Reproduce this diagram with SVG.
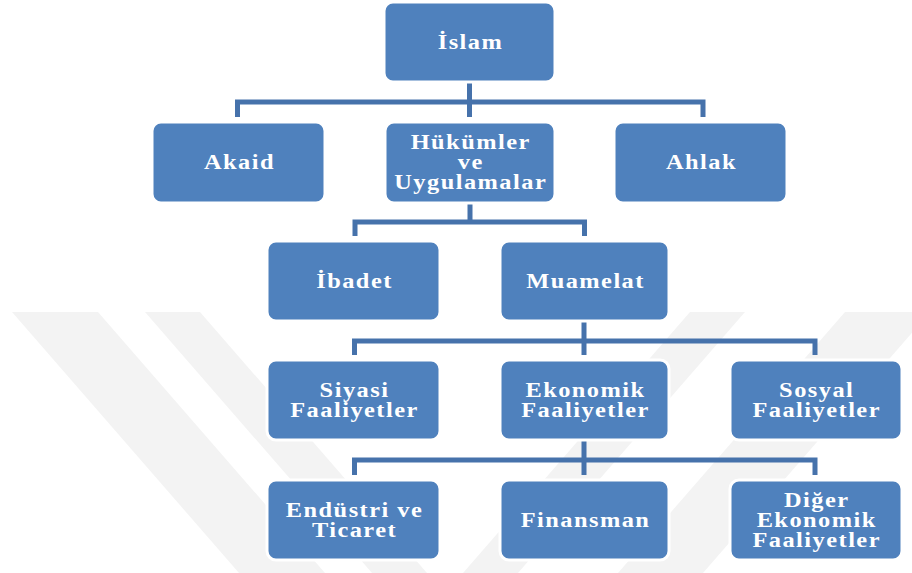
<svg xmlns="http://www.w3.org/2000/svg" width="912" height="573" viewBox="0 0 912 573">
<style>
.box{fill:#4F81BD;stroke:#ffffff;stroke-width:3}
.lbl{font-family:"Liberation Serif","Times New Roman",serif;font-weight:bold;font-size:20px;fill:#ffffff;text-anchor:middle;letter-spacing:1.2px}
.con{fill:none;stroke:#4672AB;stroke-width:5;stroke-linejoin:miter;stroke-linecap:butt}
.wm{fill:#f3f3f3}
</style>
<rect width="912" height="573" fill="#ffffff"/>
<g id="watermark">
<polygon class="wm" points="12,312 98,312 325,573 239,573"/>
<polygon class="wm" points="145,312 200,312 427,573 372,573"/>
<polygon class="wm" points="845,312 930,312 703,573 618,573"/>
<polygon class="wm" points="690,312 745,312 518,573 463,573"/>
</g>
<g id="connectors">
<path class="con" d="M469.5,82 V117 M237.5,117 V102 H703 V117"/>
<path class="con" d="M470,203 V222 M355,236 V222 H584.5 V236"/>
<path class="con" d="M584,321 V355 M354.5,355 V341 H815 V355"/>
<path class="con" d="M584,440 V475 M354.5,475 V460 H815 V475"/>
</g>
<g id="n-islam"><rect class="box" x="384" y="2" width="171" height="80" rx="9"/><text class="lbl" transform="matrix(1.22 0 0 1 470.5 48.5)">İslam</text></g>
<g id="n-akaid"><rect class="box" x="152" y="122" width="173" height="81" rx="9"/><text class="lbl" transform="matrix(1.22 0 0 1 239.5 168.5)">Akaid</text></g>
<g id="n-hukumler"><rect class="box" x="385" y="122" width="170" height="81" rx="9"/><text class="lbl" transform="matrix(1.22 0 0 1 470.7 148.5)">Hükümler</text><text class="lbl" transform="matrix(1.22 0 0 1 470.7 168.5)">ve</text><text class="lbl" transform="matrix(1.22 0 0 1 470.7 188.5)">Uygulamalar</text></g>
<g id="n-ahlak"><rect class="box" x="614" y="122" width="173" height="81" rx="9"/><text class="lbl" transform="matrix(1.22 0 0 1 701.5 168.5)">Ahlak</text></g>
<g id="n-ibadet"><rect class="box" x="267" y="241" width="173" height="80" rx="9"/><text class="lbl" transform="matrix(1.22 0 0 1 354.5 287.5)">İbadet</text></g>
<g id="n-muamelat"><rect class="box" x="500" y="241" width="169" height="80" rx="9"/><text class="lbl" transform="matrix(1.22 0 0 1 585.5 287.5)">Muamelat</text></g>
<g id="n-siyasi"><rect class="box" x="267" y="360" width="173" height="80" rx="9"/><text class="lbl" transform="matrix(1.22 0 0 1 354.5 396.5)">Siyasi</text><text class="lbl" transform="matrix(1.22 0 0 1 354.5 416.5)">Faaliyetler</text></g>
<g id="n-ekonomik"><rect class="box" x="500" y="360" width="169" height="80" rx="9"/><text class="lbl" transform="matrix(1.22 0 0 1 585.5 396.5)">Ekonomik</text><text class="lbl" transform="matrix(1.22 0 0 1 585.5 416.5)">Faaliyetler</text></g>
<g id="n-sosyal"><rect class="box" x="730" y="360" width="172" height="80" rx="9"/><text class="lbl" transform="matrix(1.22 0 0 1 816.7 396.5)">Sosyal</text><text class="lbl" transform="matrix(1.22 0 0 1 816.7 416.5)">Faaliyetler</text></g>
<g id="n-endustri"><rect class="box" x="267" y="480" width="173" height="80" rx="9"/><text class="lbl" transform="matrix(1.22 0 0 1 354.5 516.5)">Endüstri ve</text><text class="lbl" transform="matrix(1.22 0 0 1 354.5 536.5)">Ticaret</text></g>
<g id="n-finansman"><rect class="box" x="500" y="480" width="169" height="80" rx="9"/><text class="lbl" transform="matrix(1.22 0 0 1 585.5 526.5)">Finansman</text></g>
<g id="n-diger"><rect class="box" x="730" y="480" width="172" height="80" rx="9"/><text class="lbl" transform="matrix(1.22 0 0 1 816.7 506.5)">Diğer</text><text class="lbl" transform="matrix(1.22 0 0 1 816.7 526.5)">Ekonomik</text><text class="lbl" transform="matrix(1.22 0 0 1 816.7 546.5)">Faaliyetler</text></g>
</svg>
